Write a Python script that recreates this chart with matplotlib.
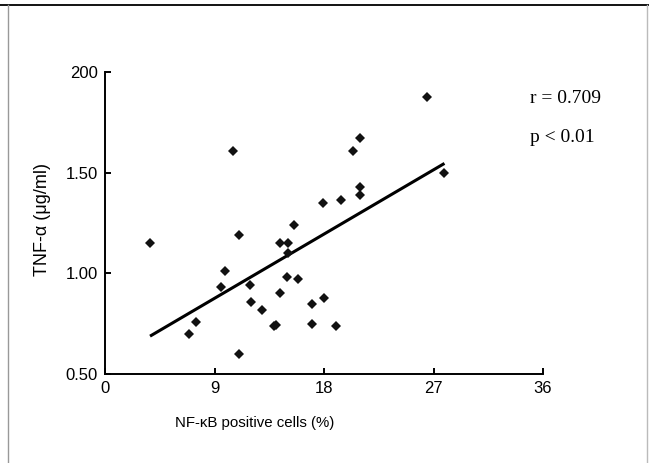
"""
TNF-alpha vs NF-kB positive cells scatter with regression line
"""

import matplotlib
matplotlib.use("Agg")
import matplotlib.pyplot as plt
from matplotlib.lines import Line2D

# NF-kB positive cells (%)
nfkb = [3.7, 6.9, 7.5, 9.5, 9.9, 10.5, 11.0, 11.0, 11.95, 12.0, 12.9,
        13.9, 14.05, 14.4, 14.4, 15.0, 15.0, 14.95, 15.5, 15.9, 17.0, 17.0,
        17.9, 17.96, 18.95, 19.4, 20.4, 20.95, 20.95, 20.95, 26.5, 27.9]
# TNF-alpha (ug/ml)
tnf = [1.15, 0.70, 0.76, 0.93, 1.01, 1.61, 1.19, 0.60, 0.94, 0.86, 0.82,
       0.74, 0.745, 0.90, 1.15, 1.15, 1.10, 0.98, 1.24, 0.97, 0.85, 0.75,
       1.35, 0.88, 0.74, 1.365, 1.61, 1.67, 1.43, 1.39, 1.875, 1.50]

# regression line endpoints as drawn in the figure
fit_x = [3.7, 27.9]
fit_y = [0.688, 1.546]

x_ticks = [0, 9, 18, 27, 36]
y_ticks = [0.5, 1.0, 1.5, 2.0]
y_tick_labels = ["0.50", "1.00", "1.50", "200"]

fig = plt.figure(figsize=(6.49, 4.63), dpi=100)
ax = fig.add_axes([0.1618, 0.1922, 0.6749, 0.6523])

ax.plot(fit_x, fit_y, color='black', linewidth=2.2, solid_capstyle='butt')
ax.plot(nfkb, tnf, linestyle='none', marker='D', markersize=5,
        color='#111111', markeredgewidth=0)

ax.set_xlim(0, 36)
ax.set_ylim(0.5, 2.0)
ax.set_xticks(x_ticks)
ax.set_yticks(y_ticks)
ax.set_yticklabels(y_tick_labels)

for side in ['top', 'right']:
    ax.spines[side].set_visible(False)
for side in ['left', 'bottom']:
    ax.spines[side].set_linewidth(1.4)

ax.tick_params(axis='both', direction='in', length=4, width=1.4,
               labelsize=12, pad=5)
for lbl in ax.get_xticklabels() + ax.get_yticklabels():
    lbl.set_family('Liberation Sans')

fig.text(0.393, 0.086, 'NF-\u03baB positive cells (%)', ha='center',
         va='center', fontsize=10.8, family='Liberation Sans')
fig.text(0.066, 0.525, 'TNF-\u03b1 (\u03bcg/ml)', ha='center', va='center',
         rotation=90, fontsize=13, family='Liberation Sans')

fig.text(0.816, 0.788, 'r = 0.709', ha='left', va='center', fontsize=14,
         family='Liberation Serif')
fig.text(0.816, 0.704, 'p < 0.01', ha='left', va='center', fontsize=14,
         family='Liberation Serif')

# page frame
fig.add_artist(Line2D([0, 1], [0.989, 0.989], color='black', linewidth=1.3,
                      transform=fig.transFigure))
fig.add_artist(Line2D([0.013, 0.013], [0, 0.989], color='#999999',
                      linewidth=1.0, transform=fig.transFigure))
fig.add_artist(Line2D([0.997, 0.997], [0, 0.989], color='#bbbbbb',
                      linewidth=1.0, transform=fig.transFigure))

fig.savefig('out.png', dpi=100)
